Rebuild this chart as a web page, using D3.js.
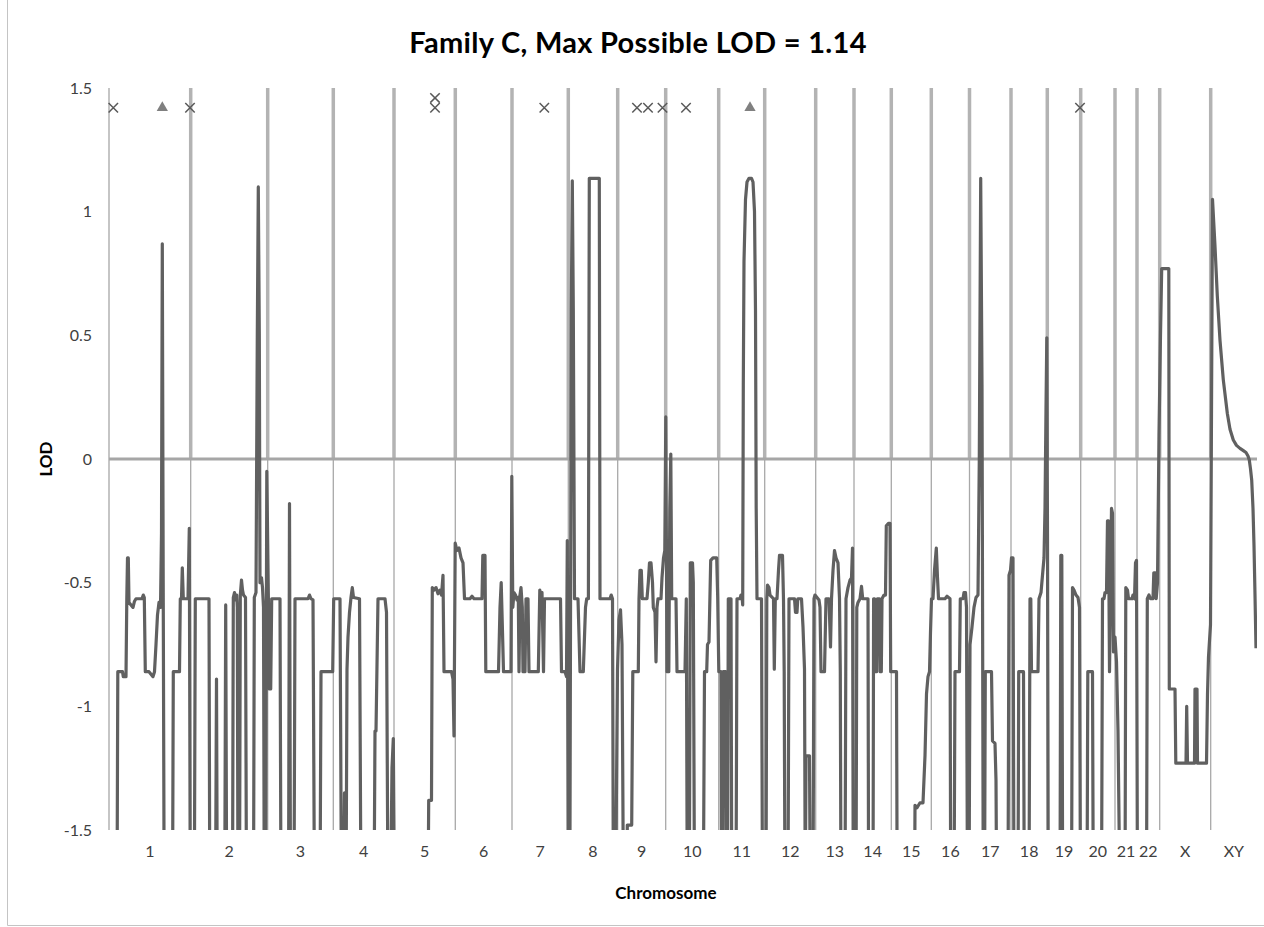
<!DOCTYPE html>
<html>
<head>
<meta charset="utf-8">
<script src="https://cdn.jsdelivr.net/npm/d3@7"></script>
<style>
  body { margin: 0; background: #fff; }
  svg { display: block; }
  text { font-family: Lato, "Open Sans", "Liberation Sans", sans-serif; }
</style>
</head>
<body>
<svg id="chart" width="1264" height="927"></svg>
<script>
// ---- data -------------------------------------------------------------
const chromosomes = ["1","2","3","4","5","6","7","8","9","10","11","12",
  "13","14","15","16","17","18","19","20","21","22","X","XY"];

// map length of each chromosome (same units as the trace positions)
const chromLengths = [81.7, 77, 65.6, 60.7, 61.3, 56.7, 56.3, 49.4, 48, 53, 46, 51,
  38.3, 37.3, 40, 38.2, 41.5, 36.3, 33.4, 34.3, 22, 22.7, 51, 46.3];

const yTicks = [-1.5, -1, -0.5, 0, 0.5, 1, 1.5];
const yTickLabels = ["-1.5", "-1", "-0.5", "0", "0.5", "1", "1.5"];

// genome-wide LOD trace: [cumulative map position, LOD]
const lodTrace = [
  // chr 1
  [0,-1.8],[8,-1.8],[8.8,-0.86],[13.5,-0.86],[14.3,-0.88],[17,-0.88],[17.8,-0.565],[18.5,-0.4],[19.3,-0.4],
  [20,-0.58],[22,-0.59],[24,-0.6],[25.5,-0.575],[27,-0.565],[33,-0.565],[34.3,-0.55],[35.3,-0.56],[36.3,-0.86],
  [40,-0.86],[42,-0.87],[44,-0.88],[45.5,-0.86],[47,-0.75],[48.5,-0.63],[50,-0.58],[51.5,-0.6],[52.5,-0.3],
  [53.3,0.87],[54.2,-0.5],[55.2,-1.8],[63.5,-1.8],[64.3,-0.86],[70.5,-0.86],[71.3,-0.565],[72.5,-0.565],
  [73.3,-0.44],[74.3,-0.565],[79,-0.565],[80.3,-0.28],[81.3,-1.8],
  // chr 2
  [85.3,-1.8],[86.3,-0.565],[100,-0.565],[100.8,-1.8],[106.5,-1.8],[107.5,-0.89],[108.3,-1.8],[115.7,-1.8],
  [116.7,-0.59],[117.7,-1.8],[123.5,-1.8],[124.3,-0.56],[125.5,-0.54],[126.5,-0.57],[127.7,-0.55],[128.3,-0.6],
  [129,-1.8],[130.5,-1.8],[131.3,-0.55],[132.5,-0.49],[133.5,-0.53],[134.5,-0.55],[136.5,-0.56],[137.5,-1.8],
  [144.5,-1.8],[145.3,-0.56],[147,-0.54],[148.3,0.5],[149.3,1.1],[150.3,0.5],[151,-0.5],[152.5,-0.48],
  [153.5,-0.52],[154.5,-0.6],[155.3,-1.8],[156.5,-1.8],[157.8,-0.05],
  // chr 3
  [159.5,-0.6],[160.3,-0.93],[161.7,-0.93],[162.7,-0.565],[171,-0.565],[172,-1.8],[179.5,-1.8],[180.5,-0.18],
  [181.5,-1.8],[185,-1.8],[186,-0.565],[199,-0.565],[200.5,-0.55],[202,-0.565],[204,-0.57],[205.5,-1.8],
  [211,-1.8],[212,-0.86],[223.7,-0.86],
  // chr 4
  [224.7,-0.565],[231,-0.565],[232.5,-1.8],[234.5,-1.8],[235.5,-1.35],[236.5,-1.8],[237,-1.8],[238,-0.85],
  [239,-0.72],[240.5,-0.62],[242,-0.56],[243.3,-0.52],[244.5,-0.56],[250.5,-0.565],[252,-1.8],[265,-1.8],
  [266,-1.1],[267,-1.1],[269,-0.565],[276,-0.565],[277.5,-0.62],[279,-1.8],[281.5,-1.8],[283,-1.25],
  [284.3,-1.13],[285.5,-1.8],
  // chr 5
  [319,-1.8],[319.7,-1.38],[322.5,-1.38],[323.3,-0.52],[325,-0.53],[327,-0.52],[329,-0.545],[331,-0.53],
  [332.5,-0.55],[334,-0.47],[335,-0.86],[342.5,-0.86],[344,-0.89],[345,-1.12],[346.2,-0.34],
  // chr 6
  [348,-0.37],[350,-0.36],[352,-0.4],[354,-0.42],[355.5,-0.565],[361,-0.565],[363,-0.555],[365,-0.565],
  [373,-0.565],[373.8,-0.39],[376,-0.39],[376.8,-0.86],[389.5,-0.86],[391,-0.6],[392.2,-0.5],[393.5,-0.7],
  [394.5,-0.86],[402,-0.86],[402.8,-0.07],[403.8,-0.6],
  // chr 7
  [405,-0.54],[406.5,-0.55],[408,-0.57],[409.3,-0.56],[410,-0.86],[411,-0.55],[412,-0.52],[413.3,-0.6],
  [414,-0.86],[416,-0.86],[417,-0.565],[419,-0.565],[420,-0.86],[429.3,-0.86],[430.8,-0.53],[432,-0.55],
  [433,-0.54],[434.5,-0.86],[435.5,-0.565],[451.5,-0.565],[452.5,-0.86],[456,-0.86],[457.5,-0.88],
  [458.3,-0.33],[459.3,-1.8],
  // chr 8
  [460.8,-1.8],[462.3,0.6],[463.3,1.125],[464.3,0.6],[465.5,-0.565],[469,-0.565],[471,-0.86],[474.3,-0.86],
  [476.5,-0.6],[477.7,-0.565],[479.4,-0.565],[480.3,1.135],[490.3,1.135],[491,-0.565],[501,-0.565],
  [502.2,-0.55],[503.5,-0.565],[504.4,-1.8],[506.5,-1.8],[508.5,-0.85],
  // chr 9
  [510,-0.65],[511.5,-0.61],[513,-0.75],[514.5,-1.8],[517.8,-1.8],[518.3,-1.48],[522.7,-1.48],[523.8,-0.86],
  [529.3,-0.86],[530,-0.565],[531,-0.45],[532.3,-0.45],[533.3,-0.565],[538,-0.565],[539.3,-0.5],[540.5,-0.42],
  [542,-0.42],[543.5,-0.5],[544.3,-0.6],[546,-0.62],[547,-0.82],[548,-0.6],[549,-0.565],[552,-0.565],
  [553,-0.48],[554.5,-0.4],[555.8,-0.37],[556.8,0.17],
  // chr 10
  [558,-0.86],[559.8,-0.86],[560.8,-0.2],[561.8,0.02],[562.7,-0.565],[567,-0.565],[568,-0.86],[576,-0.86],
  [577.3,-0.565],[578.3,-1.8],[580.3,-1.8],[581.3,-0.42],[583.5,-0.42],[584.3,-0.5],[585.5,-1.8],[594.3,-1.8],
  [595.5,-0.86],[597.7,-0.86],[598.5,-0.75],[600,-0.74],[601.7,-0.41],[604,-0.4],[607.7,-0.4],[608.7,-0.56],
  [609.8,-0.86],
  // chr 11
  [612,-0.86],[612.6,-1.8],[613.6,-1.8],[614.2,-0.86],[616.6,-0.86],[617.4,-1.8],[618.5,-1.8],[619.3,-0.565],
  [622,-0.565],[622.8,-1.8],[627,-1.8],[628,-0.565],[631,-0.565],[632,-0.55],[633,-0.55],[633.7,-0.59],
  [634.3,0.3],[635,0.8],[636.5,1.05],[638,1.12],[640,1.135],[642.5,1.135],[644,1.12],[645.5,1.0],[646.5,0.6],
  [647.2,-0.2],[648,-0.565],[652.5,-0.565],[653.5,-1.8],
  // chr 12
  [657,-1.8],[657.8,-0.565],[658.5,-0.51],[660,-0.52],[661,-0.55],[664.5,-0.565],[665.3,-0.85],[666.3,-0.565],
  [668,-0.565],[669.5,-0.45],[670.5,-0.39],[673.5,-0.39],[674.5,-0.57],[675.2,-0.86],[676,-1.8],[679,-1.8],
  [680,-0.565],[685.5,-0.565],[686.5,-0.62],[688,-0.62],[688.8,-0.565],[692.5,-0.565],[694,-0.68],
  [695.5,-0.85],[696.3,-1.8],[697,-1.2],[700.5,-1.2],[701.3,-1.8],[704,-1.8],[705,-0.565],
  // chr 13
  [706,-0.55],[710,-0.57],[711,-0.6],[712,-0.86],[715.5,-0.86],[717,-0.565],[720,-0.565],[721.5,-0.76],
  [722.5,-0.565],[724,-0.45],[725.5,-0.37],[727,-0.4],[729,-0.42],[730.5,-0.565],[731.3,-0.86],[732,-1.8],
  [736,-1.8],[737,-0.565],[739,-0.52],[741,-0.49],[742.5,-0.48],[743.5,-0.36],[744.3,-1.8],
  // chr 14
  [747,-1.8],[747.8,-0.6],[749,-0.58],[751,-0.565],[752.5,-0.515],[753.7,-0.565],[759,-0.565],[759.6,-1.8],
  [764,-1.8],[764.6,-0.565],[765.6,-0.565],[766.3,-0.86],[767.6,-0.86],[768.3,-0.565],[770.5,-0.565],
  [771.1,-0.86],[772.3,-0.86],[773,-0.565],[775,-0.55],[776.5,-0.55],[777.3,-0.27],[779.5,-0.26],[781,-0.26],
  [781.7,-0.86],
  // chr 15
  [787.5,-0.86],[788.2,-1.8],[805.5,-1.8],[806,-1.4],[808,-1.41],[809.5,-1.4],[811,-1.39],[814,-1.39],
  [816,-1.2],[817.5,-0.95],[819,-0.88],[820.5,-0.86],[821.5,-0.7],
  // chr 16
  [822.5,-0.565],[824,-0.565],[825.5,-0.45],[827.3,-0.36],[828.5,-0.48],[829.5,-0.565],[836,-0.565],
  [838,-0.555],[841,-0.565],[841.7,-1.8],[845,-1.8],[846,-0.86],[850.5,-0.86],[851.3,-0.565],[854,-0.565],
  [855,-0.54],[856.5,-0.54],[857.5,-0.6],[858.5,-1.8],[860,-1.8],
  // chr 17
  [861,-0.75],[863,-0.68],[865,-0.6],[867,-0.56],[869,-0.55],[870.3,0],[871.7,1.135],[873,0.3],[874.3,-1.8],
  [875.5,-1.8],[876.3,-0.86],[882.5,-0.86],[883.5,-1.14],[886,-1.15],[887,-1.3],[887.7,-1.8],[899,-1.8],
  [900,-0.47],[901.5,-0.45],
  // chr 18
  [902.5,-0.4],[904,-0.4],[905,-1.8],[909,-1.8],[909.7,-0.86],[914.5,-0.86],[915.3,-1.8],[920,-1.8],
  [921,-0.565],[921.8,-0.565],[922.5,-0.86],[929,-0.86],[930,-0.565],[932,-0.54],[933.5,-0.47],[935,-0.4],
  [936,-0.2],[937,0.2],[937.8,0.49],
  // chr 19
  [938.5,-0.3],[939.3,-1.8],[951,-1.8],[951.8,-0.39],[952.8,-0.39],[953.7,-1.8],[962.5,-1.8],[963.5,-0.52],
  [965,-0.53],[967,-0.55],[969,-0.56],[970.5,-0.6],[971.5,-1.8],
  // chr 20
  [978,-1.8],[978.8,-0.86],[983.5,-0.86],[984.3,-1.8],[992.5,-1.8],[993.5,-0.565],[995,-0.565],[996,-0.54],
  [997.5,-0.54],[998.5,-0.25],[999.5,-0.25],[1000.5,-0.86],[1001.5,-0.55],[1002.5,-0.2],[1003.5,-0.22],
  [1004.5,-0.78],
  // chr 21
  [1006,-0.72],[1007.5,-0.82],[1009,-1.1],[1011,-1.8],[1016,-1.8],[1016.8,-0.52],[1018.5,-0.53],
  [1019.5,-0.565],[1023,-0.565],[1024,-0.55],[1025.5,-0.565],[1026.5,-0.42],[1027.5,-0.41],
  // chr 22
  [1028.5,-1.8],[1037.5,-1.8],[1038.3,-0.565],[1040,-0.55],[1041.5,-0.565],[1044,-0.565],[1044.8,-0.46],
  [1046.5,-0.46],[1047.2,-0.565],[1048.5,-0.5],[1050,0.1],
  // X
  [1051.5,0.5],[1052.7,0.77],[1059.8,0.77],[1060.3,-0.93],[1066,-0.93],[1066.8,-1.23],[1077,-1.23],
  [1077.7,-1.0],[1078.5,-1.23],[1085.5,-1.23],[1086,-0.93],[1088,-0.93],[1088.5,-1.23],[1097.5,-1.23],
  [1098.5,-0.95],[1099.5,-0.8],[1101.5,-0.67],
  // XY
  [1103.5,1.05],[1106,0.86],[1108.3,0.66],[1111,0.48],[1114.3,0.32],[1118.3,0.185],[1121,0.12],
  [1124.3,0.077],[1127.5,0.055],[1131,0.043],[1134,0.035],[1137,0.026],[1139,0.012],[1140.3,-0.004],
  [1141.5,-0.04],[1142.7,-0.085],[1144,-0.2],[1145,-0.35],[1146,-0.55],[1147,-0.765]
];

// markers along the top of the plot: [map position, LOD]
const crossMarkers = [[4.3,1.42],[81,1.42],[326,1.42],[326,1.46],[435.3,1.42],
  [528,1.42],[539,1.42],[553.5,1.42],[577,1.42],[971,1.42]];
const triangleMarkers = [[53.3,1.42],[641,1.42]];

// ---- layout -----------------------------------------------------------
const W = 1264, H = 927;
const plot = { left: 109, right: 1257, top: 88, bottom: 830 };

const chromStarts = Array.from(d3.cumsum([0, ...chromLengths.slice(0, -1)]));
const totalLength = d3.sum(chromLengths);

const x = d3.scaleLinear().domain([0, totalLength]).range([plot.left, plot.right]);
const y = d3.scaleLinear().domain([-1.5, 1.5]).range([plot.bottom, plot.top]);

const svg = d3.select("#chart");

// outer chart frame
svg.append("path")
  .attr("d", `M7.5,0 V925.5 H${W}`)
  .attr("fill", "none").attr("stroke", "#c4c4c4").attr("stroke-width", 1);

// title
svg.append("text")
  .attr("x", 638).attr("y", 53)
  .attr("text-anchor", "middle")
  .attr("font-size", 29).attr("font-weight", 700).attr("fill", "#000")
  .attr("letter-spacing", 0.3)
  .text("Family C, Max Possible LOD = 1.14");

// chromosome boundaries: heavy above zero, light below
const bounds = chromStarts.slice(1);
svg.append("g").selectAll("line").data(bounds).join("line")
  .attr("x1", d => x(d)).attr("x2", d => x(d))
  .attr("y1", y(0)).attr("y2", y(1.5))
  .attr("stroke", "#b3b3b3").attr("stroke-width", 3.5);
svg.append("g").selectAll("line").data(bounds).join("line")
  .attr("x1", d => x(d)).attr("x2", d => x(d))
  .attr("y1", y(-1.5)).attr("y2", y(0))
  .attr("stroke", "#a8a8a8").attr("stroke-width", 1.3);

// vertical axis line
svg.append("line")
  .attr("x1", x(0)).attr("x2", x(0)).attr("y1", y(-1.5)).attr("y2", y(1.5))
  .attr("stroke", "#a6a6a6").attr("stroke-width", 1.3);

// zero line
svg.append("line")
  .attr("x1", x(0)).attr("x2", x(totalLength)).attr("y1", y(0)).attr("y2", y(0))
  .attr("stroke", "#a6a6a6").attr("stroke-width", 3);

// y axis labels
const yAxis = d3.axisLeft(y)
  .tickValues(yTicks)
  .tickFormat((d, i) => yTickLabels[i])
  .tickSize(0).tickPadding(17);
const gy = svg.append("g").attr("transform", `translate(${plot.left},0)`).call(yAxis);
gy.select(".domain").remove();
gy.selectAll("text")
  .attr("font-size", 16).attr("fill", "#404040")
  .style("font-family", "Lato, 'Open Sans', sans-serif");

// axis titles
svg.append("text")
  .attr("transform", `translate(46,${y(0)}) rotate(-90)`)
  .attr("text-anchor", "middle").attr("dy", "0.35em")
  .attr("font-size", 17).attr("font-weight", 700).attr("fill", "#000")
  .text("LOD");
svg.append("text")
  .attr("x", 666).attr("y", 899)
  .attr("text-anchor", "middle")
  .attr("font-size", 17).attr("font-weight", 700).attr("fill", "#000")
  .text("Chromosome");

// chromosome labels under each segment
svg.append("g").selectAll("text").data(chromosomes).join("text")
  .attr("x", (d, i) => x(chromStarts[i] + chromLengths[i] / 2))
  .attr("y", 857)
  .attr("text-anchor", "middle")
  .attr("font-size", 16).attr("fill", "#404040")
  .text(d => d);

// LOD trace, clipped to the plotting area
svg.append("clipPath").attr("id", "plot-clip")
  .append("rect")
  .attr("x", plot.left).attr("y", plot.top)
  .attr("width", plot.right - plot.left).attr("height", plot.bottom - plot.top);

const line = d3.line().x(d => x(d[0])).y(d => y(d[1]));
svg.append("path")
  .datum(lodTrace)
  .attr("clip-path", "url(#plot-clip)")
  .attr("d", line)
  .attr("fill", "none")
  .attr("stroke", "#606060")
  .attr("stroke-width", 3.2)
  .attr("stroke-linejoin", "round");

// top markers
const cross = d3.symbol().type(d3.symbolX).size(60);
svg.append("g").selectAll("path").data(crossMarkers).join("path")
  .attr("transform", d => `translate(${x(d[0])},${y(d[1])})`)
  .attr("d", cross)
  .attr("fill", "none").attr("stroke", "#595959").attr("stroke-width", 1.5);

const tri = d3.symbol().type(d3.symbolTriangle).size(55);
svg.append("g").selectAll("path").data(triangleMarkers).join("path")
  .attr("transform", d => `translate(${x(d[0])},${y(d[1])})`)
  .attr("d", tri)
  .attr("fill", "#808080");
</script>
</body>
</html>
